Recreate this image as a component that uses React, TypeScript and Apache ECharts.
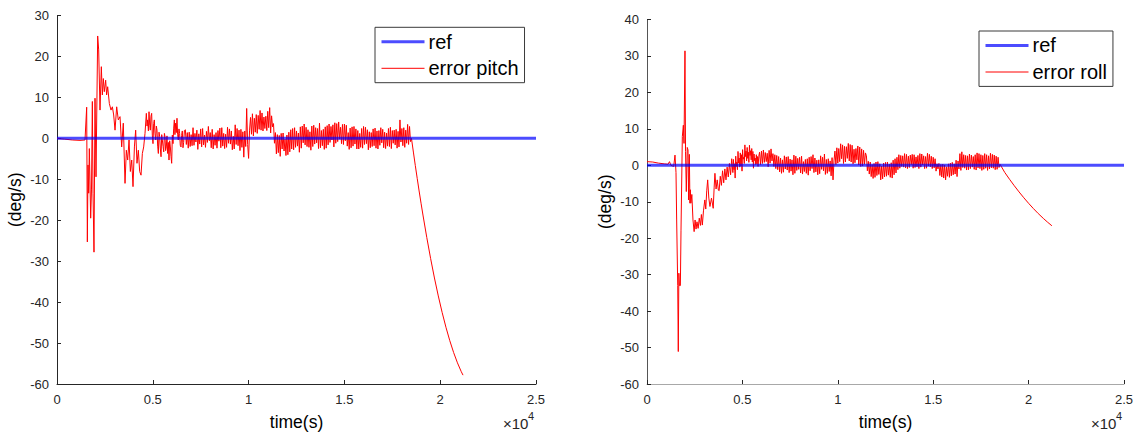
import React, { useEffect, useRef } from "react";
import * as echarts from "echarts";

// ---- data ----
const yTicksPitch = { min: -60, max: 30, step: 10 };
const yTicksRoll = { min: -60, max: 40, step: 10 };
const xRange = { min: 0, max: 25000, step: 5000 };

const refPitch: [number, number][] = [[0, 0], [25000, 0]];
const refRoll: [number, number][] = [[0, 0], [25000, 0]];

const pitchError: [number, number][] = [
  [0, 0], [400, -0.2], [800, -0.4], [1200, -0.5], [1462, -0.4], [1549, 7.6], [1584, -25.3], [1618, -6.5],
  [1653, -13.4], [1688, -2.5], [1758, -19.5], [1800, -12.6], [1845, 9], [1880, -13.4], [1931, -27.8],
  [1984, 9.8], [2036, -9.4], [2123, 25], [2175, 21.6], [2245, 6.9], [2314, 17.5], [2366, 10.6], [2419, 14.6],
  [2470, 11.4], [2540, 14.2], [2590, 10.6], [2645, 12.6], [2732, 8.5], [2819, 6.9], [2890, 7.7], [2958, 5.7],
  [3028, 2.0], [3115, 7.7], [3200, 4.5], [3289, 5.3], [3376, -2.1], [3460, 3.7], [3550, -11], [3620, -2.9],
  [3689, -5.3], [3760, -0.4], [3828, -8.1], [3900, -5.3], [3967, -11.8], [4040, -2.1], [4106, 2.0],
  [4175, -6.1], [4245, -2.9], [4315, -8.1], [4385, -9.0], [4455, -3.7], [4524, -2.1], [4593, 1.2],
  [4663, 6.1], [4700, 3.0], [4730, 4.5], [4770, 1.8], [4802, 6.5], [4840, 3.2], [4870, 2.0], [4905, 5.4],
  [4941, 6.1], [4975, 0.8], [5010, -1.3], [5045, 3.6], [5080, 4.5], [5115, 1.1], [5150, -0.4], [5185, 3.0],
  [5220, 2.0], [5255, -1.9], [5290, -3.7], [5325, 1.5], [5359, 0.4], [5395, -2.6], [5430, -4.5], [5465, 0.9],
  [5498, -0.4], [5535, -2.0], [5570, -3.3], [5605, 1.2], [5637, 0.4], [5670, -3.0], [5706, -2.1],
  [5740, 0.6], [5776, -3.7], [5810, -1.0], [5846, -5.3], [5880, -0.6], [5916, -2.1], [5950, -4.4],
  [5985, -6.1], [6020, 0.8], [6055, -1.3], [6090, 2.5], [6124, 4.5], [6155, 0.9], [6190, 3.7], [6225, 1.4],
  [6263, 4.9], [6295, 1.0], [6330, -0.4], [6365, 2.3], [6400, 1.2], [6435, -1.7], [6472, -2.1], [6505, 0.7],
  [6540, 1.8], [6575, -2.3], [6610, -1.0], [6650, 1.9],
  [6700, 2.1], [6750, -1.5], [6800, 1.4], [6850, -2.4], [6900, 1.5], [6950, -2.0], [7000, 0.9], [7050, -1.8],
  [7100, 2.6], [7150, -1.7], [7200, 1.2], [7250, -0.9], [7300, 2.0], [7350, -2.7], [7400, 1.1], [7450, -1.4],
  [7500, 2.3], [7550, -2.1], [7600, 2.4], [7650, -1.6], [7700, 0.8], [7750, -2.2], [7800, 1.7], [7850, -1.0],
  [7900, 2.9], [7950, -0.6], [8000, 1.4], [8050, -2.3], [8100, 2.2], [8150, -2.6], [8200, 0.9], [8250, -1.7],
  [8300, 1.4], [8350, -2.4], [8400, 1.9], [8450, -0.7], [8500, 2.5], [8550, -2.3], [8600, 2.6], [8650, -1.9],
  [8700, 1.2], [8750, -2.5], [8800, 1.0], [8850, -2.2], [8900, 2.7], [8950, -1.2], [9000, 2.3], [9050, -1.4],
  [9100, 1.8], [9150, -2.8], [9200, 0.5], [9250, -2.6], [9300, 3.3], [9350, -1.5], [9400, 2.4], [9450, -1.8],
  [9500, 2.0], [9550, -3.0], [9600, 2.2], [9650, -2.2], [9700, 1.6], [9750, -4.6], [9800, 1.8], [9850, -2.0],
  [9900, 7.3], [9950, -1.5], [10000, -4.9], [10050, 2.0],
  [10100, 5.1], [10150, 1.0], [10200, 6.0], [10250, 0.6], [10300, 4.9], [10350, 1.5], [10400, 5.8],
  [10450, 1.2], [10500, 5.6], [10550, 2.2], [10600, 6.8], [10650, 2.0], [10700, 6.2], [10750, 1.8],
  [10800, 5.2], [10850, 2.4], [10900, 5.4], [10950, 1.9], [11000, 6.6], [11050, 2.6], [11100, 7.5],
  [11150, 1.3], [11200, 5.5], [11250, 2.8], [11300, 3.6],
  [11350, -1.2], [11400, 1.4], [11450, -3.8], [11500, 0.9], [11550, -3.5], [11600, 0.7], [11650, -4.4],
  [11700, 1.2], [11750, -2.6], [11800, 1.3], [11850, -3.1], [11900, -0.2], [11950, -4.2], [12000, 0.8],
  [12050, -4.0], [12100, 1.5], [12150, -3.3], [12200, 2.1], [12250, -2.6],
  [12300, 2.4], [12350, -2.8], [12400, 2.6], [12450, -2.2], [12500, 1.8], [12550, -1.9], [12600, 1.3],
  [12650, -3.4], [12700, 2.8], [12750, -2.4], [12800, 3.0], [12850, -1.1], [12900, 3.5], [12950, -1.6],
  [13000, 2.7], [13050, -2.0], [13100, 2.1], [13150, -2.2], [13200, 1.6], [13250, -2.9], [13300, 3.0],
  [13350, -2.0], [13400, 3.2], [13450, -1.4], [13500, 2.6], [13550, -1.1], [13600, 2.4], [13650, -2.5],
  [13700, 3.7], [13750, -2.3], [13800, 1.9], [13850, -1.8], [13900, 2.2], [13950, -2.7], [14000, 2.8],
  [14050, -2.4], [14100, 3.1], [14150, -1.6], [14200, 3.5], [14250, -1.0], [14300, 2.9], [14350, -0.4],
  [14400, 3.3],
  [14450, -2.1], [14500, 3.8], [14550, -1.2], [14600, 3.6], [14650, -0.8], [14700, 4.0], [14750, -0.2],
  [14800, 2.7], [14850, -1.3], [14900, 3.4], [14950, -1.5], [15000, 3.5], [15050, -0.6], [15100, 3.2],
  [15150, -1.9], [15200, 1.4], [15250, -2.7], [15300, 2.5], [15350, -2.3], [15400, 2.8], [15450, -1.9],
  [15500, 2.9], [15550, -1.4], [15600, 2.3], [15650, -2.6], [15700, 1.9], [15750, -2.6], [15800, 1.2],
  [15850, -2.2], [15900, 2.4], [15950, -2.4], [16000, 2.9], [16050, -1.5], [16100, 2.7], [16150, -1.3],
  [16200, 2.1], [16250, -2.8], [16300, 1.6], [16350, -2.3], [16400, 1.4], [16450, -2.0], [16500, 2.3],
  [16550, -1.8], [16600, 2.5], [16650, -2.4], [16700, 1.8], [16750, -2.6], [16800, 1.9], [16850, -1.7],
  [16900, 2.6], [16950, -1.1], [17000, 2.2], [17050, -2.3], [17100, 1.5], [17150, -2.5], [17200, 1.3],
  [17250, -1.9], [17300, 2.4], [17350, -2.0], [17400, 2.7], [17450, -2.5], [17500, 1.9], [17550, -1.2],
  [17600, 2.0], [17650, -1.6], [17700, 2.2], [17750, -2.4], [17800, 1.7], [17850, -2.1], [17900, 4.5],
  [17950, -0.9], [18000, 2.4], [18050, -1.8], [18100, 2.6], [18150, -2.2], [18200, 2.0], [18250, -1.2],
  [18300, 3.4], [18350, -1.5], [18400, 2.9], [18450, -0.8], [18500, 0.0],
  [18600, -3.35], [18700, -6.61], [18800, -9.78], [18900, -12.86], [19000, -15.84], [19100, -18.73],
  [19300, -24.23], [19500, -29.35], [19700, -34.11], [19900, -38.49], [20100, -42.5], [20300, -46.14],
  [20500, -49.41], [20700, -52.31], [20900, -54.83], [21100, -56.99], [21190, -57.84],
];

const rollError: [number, number][] = [
  [0, 1.0], [300, 0.9], [600, 0.6], [900, 0.4], [1100, 0.3], [1180, 1.0], [1250, 0.0], [1400, -0.3],
  [1467, 2.8], [1520, -2], [1555, -15], [1610, -33], [1640, -51.1], [1670, -29.6], [1700, -33], [1750, -33],
  [1782, -17.8], [1852, 7.9], [1905, 11], [1940, 6], [1990, 31.4], [2020, 3.8], [2060, -7.2], [2110, 4.9],
  [2150, 4.2], [2180, -9.5], [2220, 3.0], [2250, -10.4], [2270, -6.7], [2300, -10.4], [2350, -8],
  [2410, -15], [2470, -18.2], [2520, -15], [2570, -17.5], [2620, -15.5], [2680, -17.3], [2740, -14.5],
  [2800, -16.5], [2850, -13.5], [2900, -16.4], [2960, -12.5], [3030, -9.5], [3080, -12], [3130, -7],
  [3180, -4], [3240, -9], [3300, -11.3], [3380, -9], [3470, -11.8], [3520, -6], [3560, -2.2], [3620, -6.5],
  [3680, -4], [3740, -6.8], [3780, -7], [3840, -3], [3900, -5.5], [3960, -1.5], [4020, -4.8], [4080, -1.0],
  [4140, -4], [4200, -0.5], [4260, -3.2], [4320, 0.5], [4380, -2.6], [4440, 1.8],
  [4500, -2.0], [4530, 1.6], [4560, -1.2], [4590, 0.4], [4620, -3.5], [4650, 2.5], [4680, -0.3], [4710, 0.9],
  [4740, -1.2], [4770, 3.8], [4800, 0.6], [4830, 2.0], [4860, -0.5], [4890, 3.4], [4920, -0.2], [4950, 2.9],
  [4980, -1.6], [5010, 4.3], [5040, 1.7], [5070, 2.2], [5100, 0.5], [5130, 5.6], [5160, 2.4], [5190, 3.9],
  [5220, 1.2], [5250, 4.9], [5280, 1.9], [5310, 3.6], [5340, 0.8], [5370, 5.5], [5400, 2.7], [5430, 4.0],
  [5460, 1.5], [5490, 4.6], [5520, 0.9], [5550, 3.8], [5580, -0.8], [5610, 3.1], [5640, 1.3], [5670, 2.0],
  [5700, 0.2], [5730, 2.9], [5760, 0.4], [5790, 2.4], [5820, -0.3], [5860, 2.5],
  [5900, 3.6], [5950, 0.2], [6000, 3.9], [6050, 0.5], [6100, 4.2], [6150, 0.8], [6200, 3.5], [6250, 1.0],
  [6300, 3.3], [6350, -0.4], [6400, 4.1], [6450, 0.6], [6500, 4.5], [6550, 1.2], [6600, 3.2], [6650, -0.3],
  [6700, 2.9], [6750, -0.9],
  [6800, 2.7], [6850, -1.2], [6900, 2.4], [6950, -1.8], [7000, 2.0], [7050, -2.2], [7100, 1.5], [7150, -1.9],
  [7200, 2.6], [7250, -1.0], [7300, 2.3], [7350, -1.3], [7400, 2.4], [7450, -2.0], [7500, 1.7], [7550, -1.6],
  [7600, 1.5], [7650, -2.6], [7700, 2.8], [7750, -2.2], [7800, 2.5], [7850, -1.4], [7900, 1.9], [7950, -1.1],
  [8000, 2.2], [8050, -2.1], [8100, 2.5], [8150, -2.4], [8200, 1.0], [8250, -1.7], [8300, 1.6], [8350, -2.2],
  [8400, 1.8], [8450, -2.7], [8500, 2.2], [8550, -1.5], [8600, 2.4], [8650, -0.9], [8700, 2.9], [8750, -2.0],
  [8800, 2.0], [8850, -1.8], [8900, 1.4], [8950, -2.6], [9000, 1.5], [9050, -2.3], [9100, 2.6], [9150, -1.1],
  [9200, 2.2], [9250, -1.5], [9300, 3.1], [9350, -2.5], [9400, 1.6], [9450, -2.2], [9500, 1.8], [9550, -1.7],
  [9600, 1.2], [9650, -2.9], [9700, 2.1], [9750, -4.0],
  [9800, 1.2], [9850, 3.9], [9900, 0.2], [9950, 4.8], [10000, 0.6], [10050, 4.6], [10100, 1.0], [10150, 5.9],
  [10200, 1.8], [10250, 5.6], [10300, 0.5], [10350, 5.2], [10400, 0.9], [10450, 5.1], [10500, 1.9],
  [10550, 6.0], [10600, 1.2], [10650, 5.7], [10700, 0.9], [10750, 5.5], [10800, 0.4], [10850, 4.4],
  [10900, 0.7], [10950, 4.6], [11000, 1.5], [11050, 5.3], [11100, 0.1], [11150, 5.0], [11200, -0.3],
  [11250, 4.5], [11300, -0.2], [11350, 4.1], [11400, 0.3], [11450, 3.4],
  [11500, 2.6], [11550, -1.5], [11600, 1.1], [11650, -2.4], [11700, 0.9], [11750, -3.1], [11800, 0.2],
  [11850, -3.6], [11900, 0.5], [11950, -3.3], [12000, 0.9], [12050, -2.8], [12100, 1.0], [12150, -2.5],
  [12200, 0.4], [12250, -4.0], [12300, -0.2], [12350, -3.7], [12400, 0.6], [12450, -3.2], [12500, 0.8],
  [12550, -3.0], [12600, 0.9], [12650, -2.7], [12700, 0.3], [12750, -3.3], [12800, 0.7], [12850, -3.5],
  [12900, 1.4], [12950, -2.6], [13000, 1.8], [13050, -2.1],
  [13100, 2.2], [13150, -1.2], [13200, 2.9], [13250, -0.8], [13300, 2.7], [13350, -0.3], [13400, 2.6],
  [13450, -0.5], [13500, 3.2], [13550, -0.7], [13600, 3.0], [13650, -0.9], [13700, 2.5], [13750, -0.6],
  [13800, 2.8], [13850, 0.2], [13900, 3.0], [13950, -0.8], [14000, 2.9], [14050, -0.6], [14100, 2.3],
  [14150, -0.4], [14200, 2.7], [14250, -0.9], [14300, 3.2], [14350, -0.5], [14400, 3.1], [14450, 0.1],
  [14500, 2.6], [14550, -0.9], [14600, 2.4], [14650, -0.8], [14700, 3.3], [14750, -0.2], [14800, 3.0],
  [14850, -0.4], [14900, 2.5], [14950, -0.9], [15000, 2.2], [15050, -0.7], [15100, 1.8],
  [15150, -1.6], [15200, 0.4], [15250, -1.0], [15300, 0.5], [15350, -2.8], [15400, 0.2], [15450, -3.2],
  [15500, 0.3], [15550, -3.5], [15600, 0.1], [15650, -4.0], [15700, -0.4], [15750, -3.0], [15800, 0.4],
  [15850, -3.3], [15900, 0.6], [15950, -2.9], [16000, 0.8], [16050, -2.6], [16100, 0.4], [16150, -2.4],
  [16200, 1.4], [16250, -3.1], [16300, 1.2], [16350, -1.0],
  [16400, 3.2], [16450, -1.4], [16500, 3.7], [16550, -0.6], [16600, 2.9], [16650, -0.8], [16700, 2.7],
  [16750, -1.3], [16800, 2.6], [16850, -1.2], [16900, 3.1], [16950, -0.9], [17000, 2.8], [17050, -0.5],
  [17100, 2.4], [17150, -1.1], [17200, 2.9], [17250, -1.3], [17300, 3.4], [17350, -0.7], [17400, 3.2],
  [17450, -0.9], [17500, 2.9], [17550, -1.4], [17600, 2.7], [17650, -1.1], [17700, 3.2], [17750, -0.8],
  [17800, 2.9], [17850, -1.4], [17900, 2.6], [17950, -1.0], [18000, 3.3], [18050, -0.7], [18100, 3.0],
  [18150, -0.8], [18200, 2.8], [18250, -1.2], [18300, 2.5], [18350, -1.1], [18400, 2.2], [18450, -0.6],
  [18500, 0.3],
  [18750, -1.96], [19000, -3.83], [19250, -5.61], [19500, -7.30], [19750, -8.91], [20000, -10.43],
  [20250, -11.86], [20500, -13.21], [20770, -14.56], [21000, -15.63], [21220, -16.59],
];

const legendPitch = ["ref", "error pitch"];
const legendRoll = ["ref", "error roll"];
const xLabel = "time(s)";
const yLabel = "(deg/s)";

// ---- styling ----
const FONT = "'Liberation Sans', Arial, Helvetica, sans-serif";
const AX = "#262626";

function makeX(gridIndex: number, lineColor: string) {
  return {
    type: "value",
    gridIndex,
    min: xRange.min,
    max: xRange.max,
    interval: xRange.step,
    name: xLabel,
    nameLocation: "middle",
    nameGap: 29,
    nameTextStyle: { fontSize: 17.5, color: "#000", fontFamily: FONT },
    axisLine: { show: true, onZero: false, lineStyle: { color: lineColor, width: 1 } },
    axisTick: { show: true, inside: true, length: 4, lineStyle: { color: AX } },
    axisLabel: {
      formatter: (v: number) => String(v / 10000),
      fontSize: 13,
      color: AX,
      margin: 9,
      fontFamily: FONT,
    },
    splitLine: { show: false },
  };
}

function makeY(gridIndex: number, t: { min: number; max: number; step: number }, lineColor: string) {
  return {
    type: "value",
    gridIndex,
    min: t.min,
    max: t.max,
    interval: t.step,
    name: yLabel,
    nameLocation: "middle",
    nameGap: 33,
    nameRotate: 90,
    nameTextStyle: { fontSize: 17.5, color: "#000", fontFamily: FONT },
    axisLine: { show: true, onZero: false, lineStyle: { color: lineColor, width: 1 } },
    axisTick: { show: true, inside: true, length: 4, lineStyle: { color: AX } },
    axisLabel: { fontSize: 13, color: AX, margin: 8, fontFamily: FONT },
    splitLine: { show: false },
  };
}

function makeLegend(names: string[], left: number, top: number) {
  return {
    data: names,
    orient: "vertical",
    left,
    top,
    padding: [4.4, 6, 4.4, 5],
    itemGap: 6.6,
    itemWidth: 43,
    itemHeight: 20,
    borderColor: "#3a3a3a",
    borderWidth: 1,
    borderRadius: 0,
    backgroundColor: "#fff",
    selectedMode: false,
    itemStyle: { opacity: 0 },
    lineStyle: { width: "inherit" },
    textStyle: { fontSize: 20, color: "#000", fontFamily: FONT, lineHeight: 20, padding: [0, 0, 0, -1] },
  };
}

function times10(x: number) {
  return [
    {
      type: "text",
      x,
      y: 423,
      style: { text: "×10", fontSize: 15, fill: AX, fontFamily: FONT, verticalAlign: "middle" },
    },
    {
      type: "text",
      x: x + 25,
      y: 416,
      style: { text: "4", fontSize: 11, fill: AX, fontFamily: FONT, verticalAlign: "middle" },
    },
  ];
}

export default function App() {
  const ref = useRef<HTMLDivElement>(null);
  useEffect(() => {
    if (!ref.current) return;
    const chart = echarts.init(ref.current, null, { renderer: "svg" });
    const errStyle = { color: "#ff0000", width: 1 };
    const refStyle = { color: "rgba(0,0,255,0.7)", width: 3 };
    chart.setOption({
      animation: false,
      backgroundColor: "#fff",
      textStyle: { fontFamily: FONT },
      grid: [
        { left: 57, top: 15.5, width: 479, height: 368.5 },
        { left: 647, top: 19.5, width: 477, height: 364.5 },
      ],
      xAxis: [makeX(0, AX), makeX(1, "#a8a8a8")],
      yAxis: [makeY(0, yTicksPitch, AX), makeY(1, yTicksRoll, "#555")],
      legend: [makeLegend(legendPitch, 375, 27.3), makeLegend(legendRoll, 979, 31)],
      series: [
        {
          name: "error pitch", type: "line", xAxisIndex: 0, yAxisIndex: 0, data: pitchError,
          showSymbol: false, symbol: "none", lineStyle: errStyle, itemStyle: { color: "#ff0000" },
        },
        {
          name: "ref", type: "line", xAxisIndex: 0, yAxisIndex: 0, data: refPitch,
          showSymbol: false, symbol: "none", lineStyle: refStyle, itemStyle: { color: "rgba(0,0,255,0.7)" },
        },
        {
          name: "error roll", type: "line", xAxisIndex: 1, yAxisIndex: 1, data: rollError,
          showSymbol: false, symbol: "none", lineStyle: errStyle, itemStyle: { color: "#ff0000" },
        },
        {
          name: "ref", type: "line", xAxisIndex: 1, yAxisIndex: 1, data: refRoll,
          showSymbol: false, symbol: "none", lineStyle: refStyle, itemStyle: { color: "rgba(0,0,255,0.7)" },
        },
      ],
      graphic: [...times10(503), ...times10(1091)],
    });
    return () => chart.dispose();
  }, []);
  return (
    <div
      ref={ref}
      style={{ position: "fixed", left: 0, top: 0, width: 1142, height: 437, background: "#fff" }}
    />
  );
}
